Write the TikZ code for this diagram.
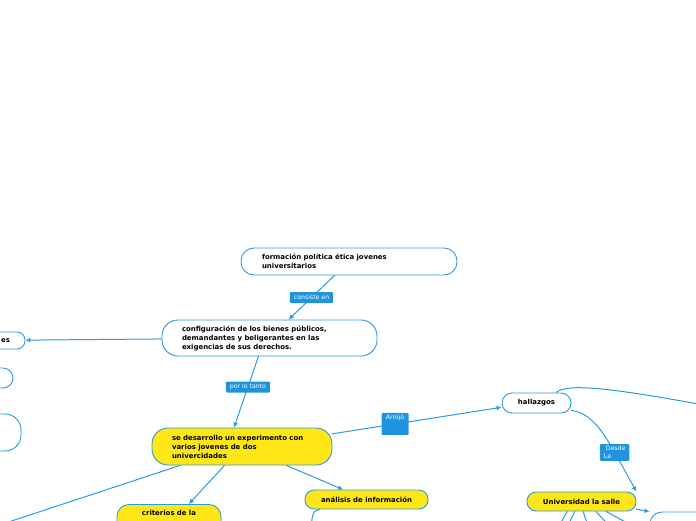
\documentclass[tikz,border=0pt]{standalone}
\usepackage{fontspec}
\setmainfont{DejaVu Sans}
\usetikzlibrary{arrows.meta}
\definecolor{mapblue}{RGB}{44,154,226}
\definecolor{tagblue}{RGB}{30,148,222}
\definecolor{mapyellow}{RGB}{255,230,22}
\tikzset{
  topic/.style={draw=mapblue,line width=0.9pt,fill=white,rounded corners=10pt,
    font=\fontsize{6.95}{9}\selectfont\bfseries,inner ysep=0pt,align=left},
  hot/.style={topic,fill=mapyellow},
  tag/.style={fill=tagblue,text=white,rounded corners=1pt,inner xsep=4pt,inner ysep=1pt,
    minimum height=11pt,font=\fontsize{6.2}{8}\selectfont},
  conn/.style={draw=mapblue,line width=1pt,-{Latex[length=5pt,width=5pt]}}
}
\begin{document}
\begin{tikzpicture}[x=1pt,y=-1pt,line cap=round,line join=round]
\useasboundingbox (0,0) rectangle (696,520);
\clip (0,0) rectangle (696,520);
% topics
\node[topic,rounded corners=13pt,minimum width=216pt,minimum height=27pt,text width=174pt] (form) at (349,261.5)
  {formación política ética jovenes\\universitarios};
\node[topic,rounded corners=16pt,minimum width=215pt,minimum height=36pt,text width=175pt] (conf) at (269.5,338)
  {configuración de los bienes públicos,\\demandantes y beligerantes en las\\exigencias de sus derechos.};
\node[hot,rounded corners=16pt,minimum width=180pt,minimum height=37pt,text width=140pt] (expe) at (242,446.5)
  {se desarrollo un experimento con\\varios jovenes de dos\\univercidades};
\node[topic,minimum width=69pt,minimum height=20pt,align=center] (hall) at (536.5,403) {hallazgos};
\node[hot,rounded corners=9pt,minimum width=109pt,minimum height=19pt,align=center] (uls) at (581.5,501.5) {Universidad la salle};
\node[hot,rounded corners=9pt,minimum width=123pt,minimum height=19pt,align=center] (anal) at (366.5,499.5) {análisis de información};
\node[hot,rounded corners=12pt,minimum width=104pt,text width=80pt,align=center,inner ysep=6pt,
  text height=5pt,text depth=25pt,anchor=north] (crit) at (169,504) {criterios de la};
% topics cut by the edge
\node[topic,rounded corners=8pt,minimum width=85pt,minimum height=17pt,text width=55pt,align=right] (left1) at (-17.5,340.5) {es};
\node[topic,minimum width=86pt,minimum height=20pt] (left2) at (-30,378) {};
\node[topic,rounded corners=16pt,minimum width=122pt,minimum height=37pt] (left3) at (-40,432.5) {};
\node[topic,rounded corners=12pt,minimum width=160pt,minimum height=36pt] (right1) at (730,530) {};
\coordinate (farleft) at (-40,538);
\coordinate (farright) at (730,410);
\coordinate (farbelow) at (311,540);
\coordinate (f1) at (551,540);
\coordinate (f2) at (561,540);
\coordinate (f3) at (593,540);
\coordinate (f4) at (623,540);
\coordinate (f5) at (658,540);
% connectors
\draw[conn] (form) -- node[tag]{consiste en} (conf);
\draw[conn] (conf) -- (left1);
\draw[conn] (conf.-121) -- node[tag,pos=0.43]{por lo tanto} (expe.113);
\draw[conn] (expe.8) -- node[tag,pos=0.37,text height=5pt,text depth=13pt,inner ysep=2pt,minimum width=27pt,align=left]{Arrojó} (hall.187);
\draw[conn] (expe) -- (crit);
\draw[conn] (expe) -- (anal);
\draw[conn] (expe.-163) -- (farleft);
\draw[draw=mapblue,line width=1pt] (hall.28) .. controls (566,384) and (600,385) .. (farright);
\draw[draw=mapblue,line width=1pt] (anal.-168) .. controls (313,510) and (311,514) .. (farbelow);
\draw[conn] (hall.-12) .. controls (597,414) and (608,441) .. node[tag,pos=0.7,align=left,inner ysep=2pt]{~Desde\\La} (uls.north east);
\draw[conn] (uls.-8) -- (right1.north west);
\foreach \a/\i in {-145/1,-124/2,-81/3,-35/4,-22/5}
  \draw[conn] (uls.\a) -- (f\i);
\end{tikzpicture}
\end{document}
